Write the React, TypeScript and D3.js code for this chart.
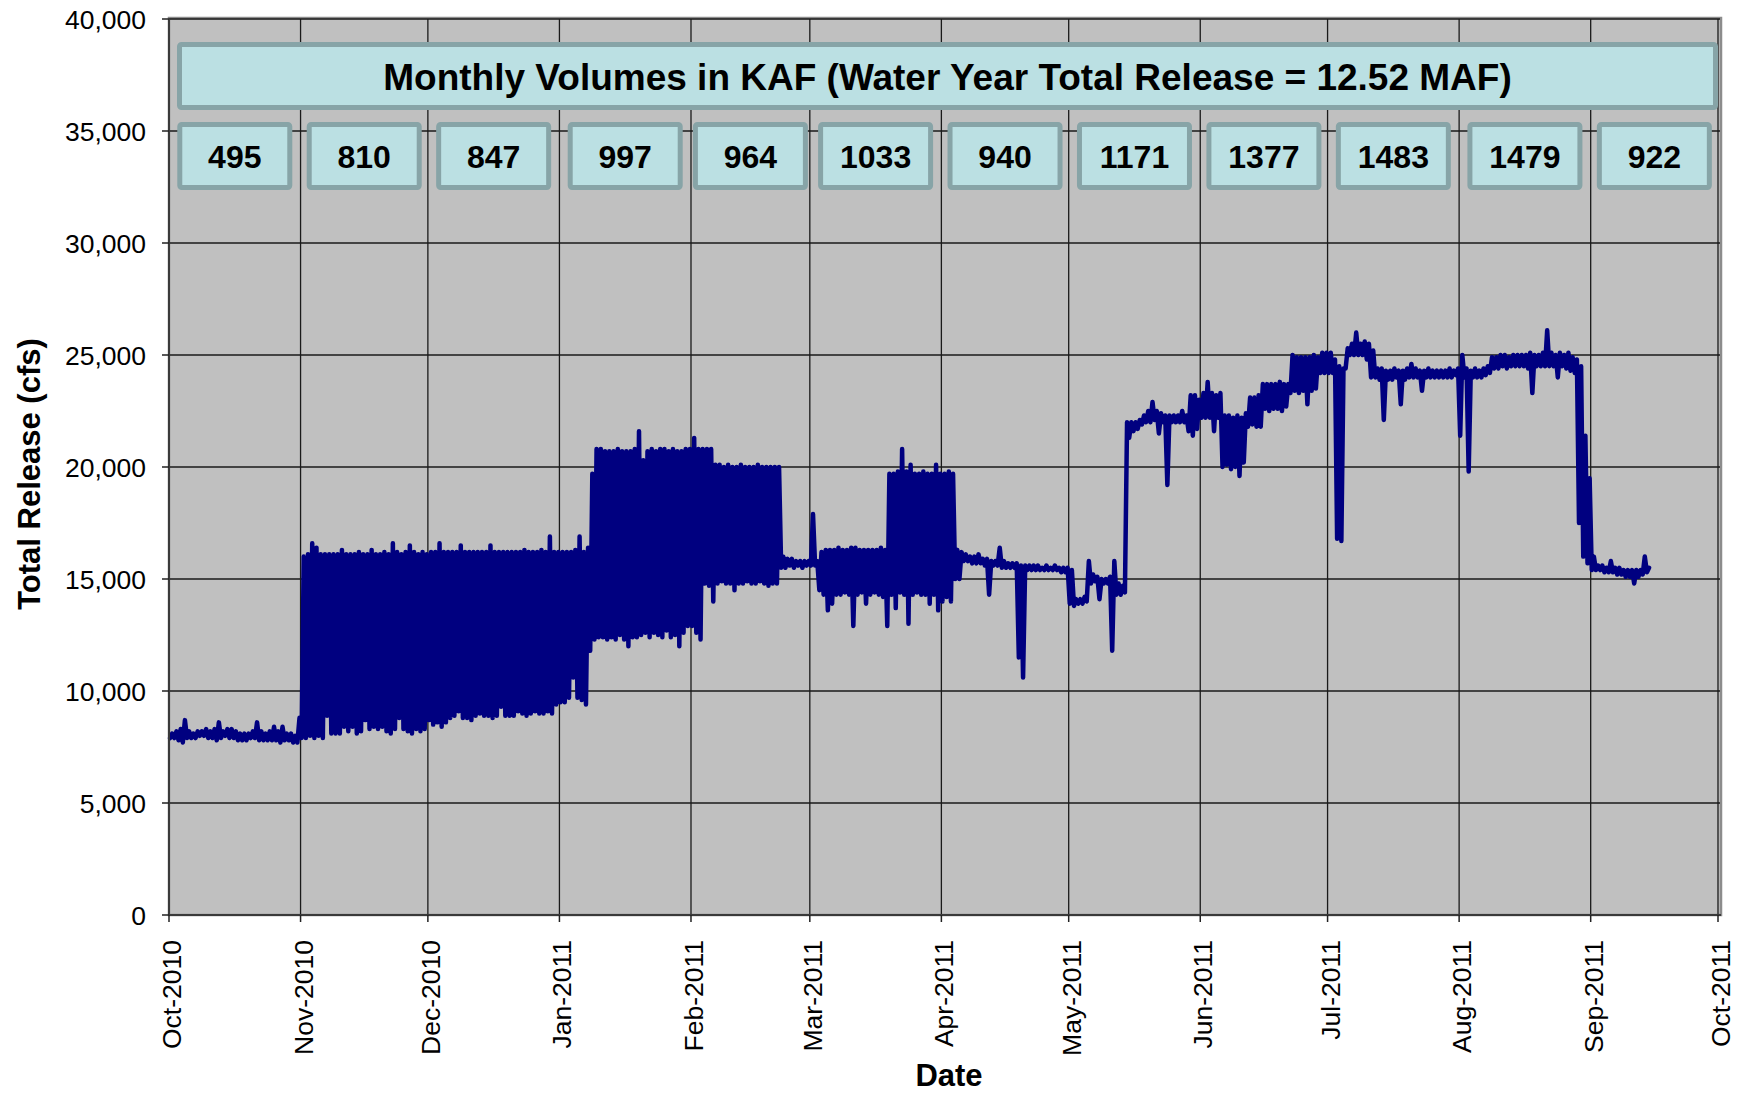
import React from "react";
import * as d3 from "d3";

// daily [low, high] total release in thousand cfs
const oct2010 = [
  [7.9, 8.1], [7.9, 8.2], [7.8, 8.3], [7.7, 8.7], [7.9, 8.2], [7.9, 8.1], [7.9, 8.2], [8.0, 8.2],
  [8.0, 8.3], [7.9, 8.2], [7.9, 8.3], [7.8, 8.6], [7.9, 8.2], [8.0, 8.3], [7.9, 8.3], [7.9, 8.2],
  [7.8, 8.1], [7.8, 8.1], [7.8, 8.1], [7.9, 8.2], [7.9, 8.6], [7.8, 8.2], [7.8, 8.1], [7.8, 8.2],
  [7.8, 8.4], [7.8, 8.2], [7.7, 8.4], [7.8, 8.1], [7.8, 8.1], [7.7, 8.0], [7.7, 8.8],
];
const nov2010 = [
  [7.9, 16.0], [7.9, 16.1], [8.0, 16.6], [7.9, 16.4], [8.0, 16.1], [7.9, 16.1], [8.9, 16.1], [8.1, 16.1],
  [8.1, 16.1], [8.1, 16.3], [8.4, 16.1], [8.2, 16.1], [8.4, 16.1], [8.1, 16.2], [8.2, 16.1], [8.7, 16.1],
  [8.3, 16.3], [8.4, 16.1], [8.3, 16.1], [8.4, 16.2], [8.2, 16.1], [8.1, 16.6], [8.3, 16.2], [8.8, 16.1],
  [8.3, 16.2], [8.2, 16.5], [8.1, 16.2], [8.3, 16.1], [8.2, 16.2], [8.3, 16.1],
];
const dec2010 = [
  [8.7, 16.2], [8.5, 16.2], [8.6, 16.6], [8.4, 16.2], [8.6, 16.2], [8.8, 16.2], [8.9, 16.2], [9.1, 16.5],
  [8.8, 16.2], [8.8, 16.2], [8.7, 16.2], [8.9, 16.2], [9.0, 16.2], [8.9, 16.2], [8.9, 16.5], [8.8, 16.2],
  [8.9, 16.2], [9.3, 16.2], [8.9, 16.2], [8.9, 16.2], [8.9, 16.2], [9.1, 16.2], [9.0, 16.3], [8.9, 16.2],
  [9.0, 16.2], [9.1, 16.2], [9.0, 16.3], [9.0, 16.2], [9.1, 16.9], [9.0, 16.2], [9.4, 16.2],
];
const jan2011 = [
  [9.5, 16.2], [9.5, 16.2], [9.7, 16.2], [10.6, 16.3], [9.7, 16.9], [9.6, 16.2], [9.4, 16.4], [11.8, 19.7],
  [12.3, 20.8], [12.4, 20.8], [12.4, 20.7], [12.3, 20.7], [12.4, 20.7], [12.3, 20.8], [12.5, 20.7], [12.3, 20.7],
  [12.0, 20.7], [12.4, 20.8], [12.4, 21.6], [12.5, 20.3], [12.6, 20.7], [12.4, 20.8], [12.6, 20.7], [12.5, 20.8],
  [12.4, 20.8], [12.7, 20.7], [12.4, 20.8], [12.5, 20.7], [12.0, 20.7], [12.6, 20.8], [12.9, 20.8],
];
const feb2011 = [
  [12.9, 21.3], [12.6, 20.8], [12.3, 20.8], [14.8, 20.8], [14.7, 20.8], [14.0, 20.1], [14.8, 20.1], [14.9, 20.0],
  [14.8, 20.1], [14.8, 20.0], [14.5, 20.0], [14.8, 20.1], [14.8, 20.0], [14.9, 20.0], [14.8, 20.0], [14.8, 20.1],
  [14.9, 20.0], [14.8, 20.0], [14.7, 20.0], [14.8, 20.0], [14.8, 20.0], [15.5, 16.0], [15.5, 15.9], [15.6, 15.9],
  [15.5, 15.8], [15.6, 15.8], [15.5, 15.8], [15.6, 15.8],
];
const mar2011 = [
  [15.6, 17.9], [15.6, 15.8], [14.5, 16.2], [14.3, 16.3], [13.6, 16.3], [13.9, 16.3], [14.3, 16.4], [14.3, 16.3],
  [14.4, 16.3], [14.3, 16.4], [12.9, 16.4], [14.3, 16.3], [14.4, 16.3], [13.9, 16.3], [14.3, 16.3], [14.4, 16.3],
  [14.3, 16.4], [14.2, 16.3], [12.9, 19.7], [14.3, 19.7], [13.7, 19.8], [14.4, 20.8], [14.3, 19.8], [13.0, 20.1],
  [14.3, 19.7], [14.4, 19.7], [14.3, 19.8], [14.3, 19.7], [13.9, 19.7], [14.3, 20.1], [13.6, 19.7],
];
const apr2011 = [
  [14.0, 19.7], [14.2, 19.8], [14.0, 19.7], [15.0, 16.3], [15.0, 16.2], [15.8, 16.1], [15.8, 16.0], [15.7, 16.0],
  [15.7, 16.1], [15.7, 15.9], [15.6, 15.9], [14.3, 15.8], [15.6, 15.8], [15.6, 16.4], [15.5, 15.8], [15.5, 15.7],
  [15.5, 15.7], [15.5, 15.7], [11.5, 15.6], [10.6, 15.6], [15.4, 15.6], [15.4, 15.6], [15.4, 15.6], [15.4, 15.5],
  [15.4, 15.6], [15.4, 15.5], [15.4, 15.6], [15.4, 15.5], [15.3, 15.5], [15.3, 15.5],
];
const may2011 = [
  [13.9, 15.4], [13.8, 14.1], [13.9, 14.1], [13.9, 14.2], [14.0, 15.8], [14.8, 15.2], [14.9, 15.1], [14.1, 15.0],
  [14.8, 15.0], [14.8, 15.1], [11.8, 15.8], [14.3, 14.8], [14.3, 14.7], [14.4, 22.0], [21.3, 22.0], [21.6, 22.0],
  [21.7, 22.1], [21.9, 22.3], [22.0, 22.5], [22.0, 22.9], [22.1, 22.5], [21.5, 22.4], [22.0, 22.3], [19.2, 22.3],
  [22.0, 22.3], [22.0, 22.3], [22.0, 22.5], [22.0, 22.3], [21.6, 23.2], [21.4, 23.2], [21.7, 23.0],
];
const jun2011 = [
  [22.2, 23.3], [22.2, 23.8], [22.2, 23.3], [21.6, 23.2], [22.2, 23.3], [20.0, 22.3], [20.1, 22.3], [19.9, 22.2],
  [20.0, 22.3], [19.6, 22.2], [20.2, 22.4], [21.8, 23.1], [21.9, 23.1], [21.8, 23.2], [21.8, 23.7], [22.6, 23.7],
  [22.5, 23.7], [22.6, 23.7], [22.6, 23.8], [22.5, 23.7], [22.7, 23.7], [23.3, 25.0], [23.4, 24.9], [23.3, 24.9],
  [23.4, 24.9], [22.8, 24.9], [23.4, 25.0], [23.5, 24.9], [24.2, 25.1], [24.2, 25.1],
];
const jul2011 = [
  [24.2, 25.1], [24.2, 24.8], [16.8, 24.5], [16.7, 24.4], [24.4, 25.3], [25.0, 25.5], [25.0, 26.0], [25.0, 25.5],
  [25.0, 25.6], [24.8, 25.5], [24.0, 25.2], [24.0, 24.4], [23.9, 24.4], [22.1, 24.3], [23.9, 24.3], [23.9, 24.4],
  [24.0, 24.3], [22.8, 24.3], [23.9, 24.4], [24.0, 24.6], [24.0, 24.4], [24.0, 24.3], [23.4, 24.3], [24.0, 24.4],
  [24.0, 24.3], [24.0, 24.3], [24.0, 24.3], [24.0, 24.3], [24.0, 24.4], [24.0, 24.3], [24.1, 24.4],
];
const aug2011 = [
  [21.4, 25.0], [24.0, 24.4], [19.8, 24.3], [24.0, 24.4], [24.0, 24.3], [24.0, 24.4], [24.1, 24.5], [24.2, 24.9],
  [24.4, 24.9], [24.4, 25.0], [24.5, 25.0], [24.4, 24.9], [24.5, 25.0], [24.5, 25.0], [24.5, 25.0], [24.5, 25.0],
  [24.4, 25.1], [23.3, 25.0], [24.5, 25.0], [24.5, 25.1], [24.5, 26.1], [24.5, 25.1], [24.5, 25.0], [24.0, 25.1],
  [24.5, 25.0], [24.4, 25.1], [24.3, 24.9], [24.2, 24.8], [17.5, 24.5], [16.0, 21.4], [15.7, 19.5],
];
const sep2011 = [
  [15.4, 16.0], [15.4, 15.6], [15.4, 15.6], [15.3, 15.5], [15.3, 15.8], [15.3, 15.5], [15.2, 15.5], [15.2, 15.4],
  [15.1, 15.4], [15.1, 15.4], [14.8, 15.4], [15.1, 15.4], [15.2, 16.0], [15.3, 15.5],
];

// monthly volumes shown in the boxes (KAF)
const monthlyKaf = [495, 810, 847, 997, 964, 1033, 940, 1171, 1377, 1483, 1479, 922];
const yTicks = [0, 5000, 10000, 15000, 20000, 25000, 30000, 35000, 40000];
const title = "Monthly Volumes in KAF (Water Year Total Release = 12.52 MAF)";

const FONT = "'Liberation Sans', Arial, sans-serif";

export default function App() {
  const w = 1744;
  const h = 1094;
  const left = 169;
  const right = 1718;
  const top = 19;
  const bottom = 915;

  const start = new Date(2010, 9, 1);
  const end = new Date(2011, 9, 1);

  const x = d3.scaleTime().domain([start, end]).range([left, right]);
  const y = d3.scaleLinear().domain([0, 40000]).range([bottom, top]);

  const daily = [
    ...oct2010, ...nov2010, ...dec2010, ...jan2011, ...feb2011, ...mar2011,
    ...apr2011, ...may2011, ...jun2011, ...jul2011, ...aug2011, ...sep2011,
  ];

  // each day: the night low then the daytime high, so the trace zigzags
  const pts: [Date, number][] = [];
  daily.forEach(([lo, hi], i) => {
    const d = d3.timeDay.offset(start, i);
    pts.push([d3.timeHour.offset(d, 6), lo * 1000]);
    pts.push([d3.timeHour.offset(d, 18), hi * 1000]);
  });

  const line = d3
    .line<[Date, number]>()
    .x((p) => x(p[0]))
    .y((p) => y(p[1]));

  const months = d3.timeMonth.range(start, d3.timeDay.offset(end, 1));
  const fmtMonth = d3.timeFormat("%b-%Y");
  const fmtNum = d3.format(",");

  const boxW = 115;
  const border = 5;

  return (
    <svg
      width={w}
      height={h}
      style={{ position: "absolute", left: 0, top: 0, background: "#fff" }}
      fontFamily={FONT}
    >
      {/* plot area */}
      <rect x={left} y={top - 1} width={right - left + 3} height={bottom - top + 1} fill="#c0c0c0" stroke="#8c8c8c" strokeWidth={2.5} />

      {/* grid */}
      {yTicks.map((t) => (
        <line key={"gy" + t} x1={left} x2={right + 2} y1={y(t)} y2={y(t)} stroke="#1a1a1a" strokeWidth={1.3} />
      ))}
      {months.map((m) => (
        <line key={"gx" + m.getTime()} x1={x(m)} x2={x(m)} y1={top} y2={bottom} stroke="#1a1a1a" strokeWidth={1.3} />
      ))}

      {/* release trace */}
      <path d={line(pts) ?? ""} fill="none" stroke="#000080" strokeWidth={4.5} strokeLinejoin="round" strokeLinecap="round" />

      {/* axes */}
      <line x1={left} x2={left} y1={top} y2={bottom} stroke="#3a3a3a" strokeWidth={2} />
      <line x1={left} x2={right + 3} y1={bottom} y2={bottom} stroke="#3a3a3a" strokeWidth={2} />
      {yTicks.map((t) => (
        <g key={"ty" + t}>
          <line x1={left - 7} x2={left} y1={y(t)} y2={y(t)} stroke="#222" strokeWidth={1.5} />
          <text x={146} y={y(t) + 9.5} textAnchor="end" fontSize={26.5} fill="#000">
            {fmtNum(t)}
          </text>
        </g>
      ))}
      {months.map((m) => (
        <g key={"tx" + m.getTime()}>
          <line x1={x(m)} x2={x(m)} y1={bottom} y2={bottom + 7} stroke="#222" strokeWidth={1.5} />
          <text
            transform={`translate(${x(m) + 12},940) rotate(-90)`}
            textAnchor="end"
            fontSize={26.5}
            fill="#000"
          >
            {fmtMonth(m)}
          </text>
        </g>
      ))}

      {/* axis titles */}
      <text transform="translate(39.5,474) rotate(-90)" textAnchor="middle" fontSize={31} fontWeight="bold">
        Total Release (cfs)
      </text>
      <text x={949} y={1086} textAnchor="middle" fontSize={31} fontWeight="bold">
        Date
      </text>

      {/* title box */}
      <rect
        x={177 + border / 2}
        y={42 + border / 2}
        width={1718 - 177 - border}
        height={68 - border}
        rx={2}
        fill="#bbe0e3"
        stroke="#87a4a7"
        strokeWidth={border}
      />
      <text x={947.5} y={89.5} textAnchor="middle" fontSize={37} fontWeight="bold">
        {title}
      </text>

      {/* monthly volume boxes */}
      {monthlyKaf.map((v, i) => {
        const m0 = months[i];
        const m1 = months[i + 1];
        const cx = (x(m0) + x(m1)) / 2;
        return (
          <g key={"box" + i}>
            <rect
              x={cx - boxW / 2 + border / 2}
              y={122 + border / 2}
              width={boxW - border}
              height={68 - border}
              rx={2}
              fill="#bbe0e3"
              stroke="#87a4a7"
              strokeWidth={border}
            />
            <text x={cx} y={167.5} textAnchor="middle" fontSize={32} fontWeight="bold">
              {v}
            </text>
          </g>
        );
      })}
    </svg>
  );
}
